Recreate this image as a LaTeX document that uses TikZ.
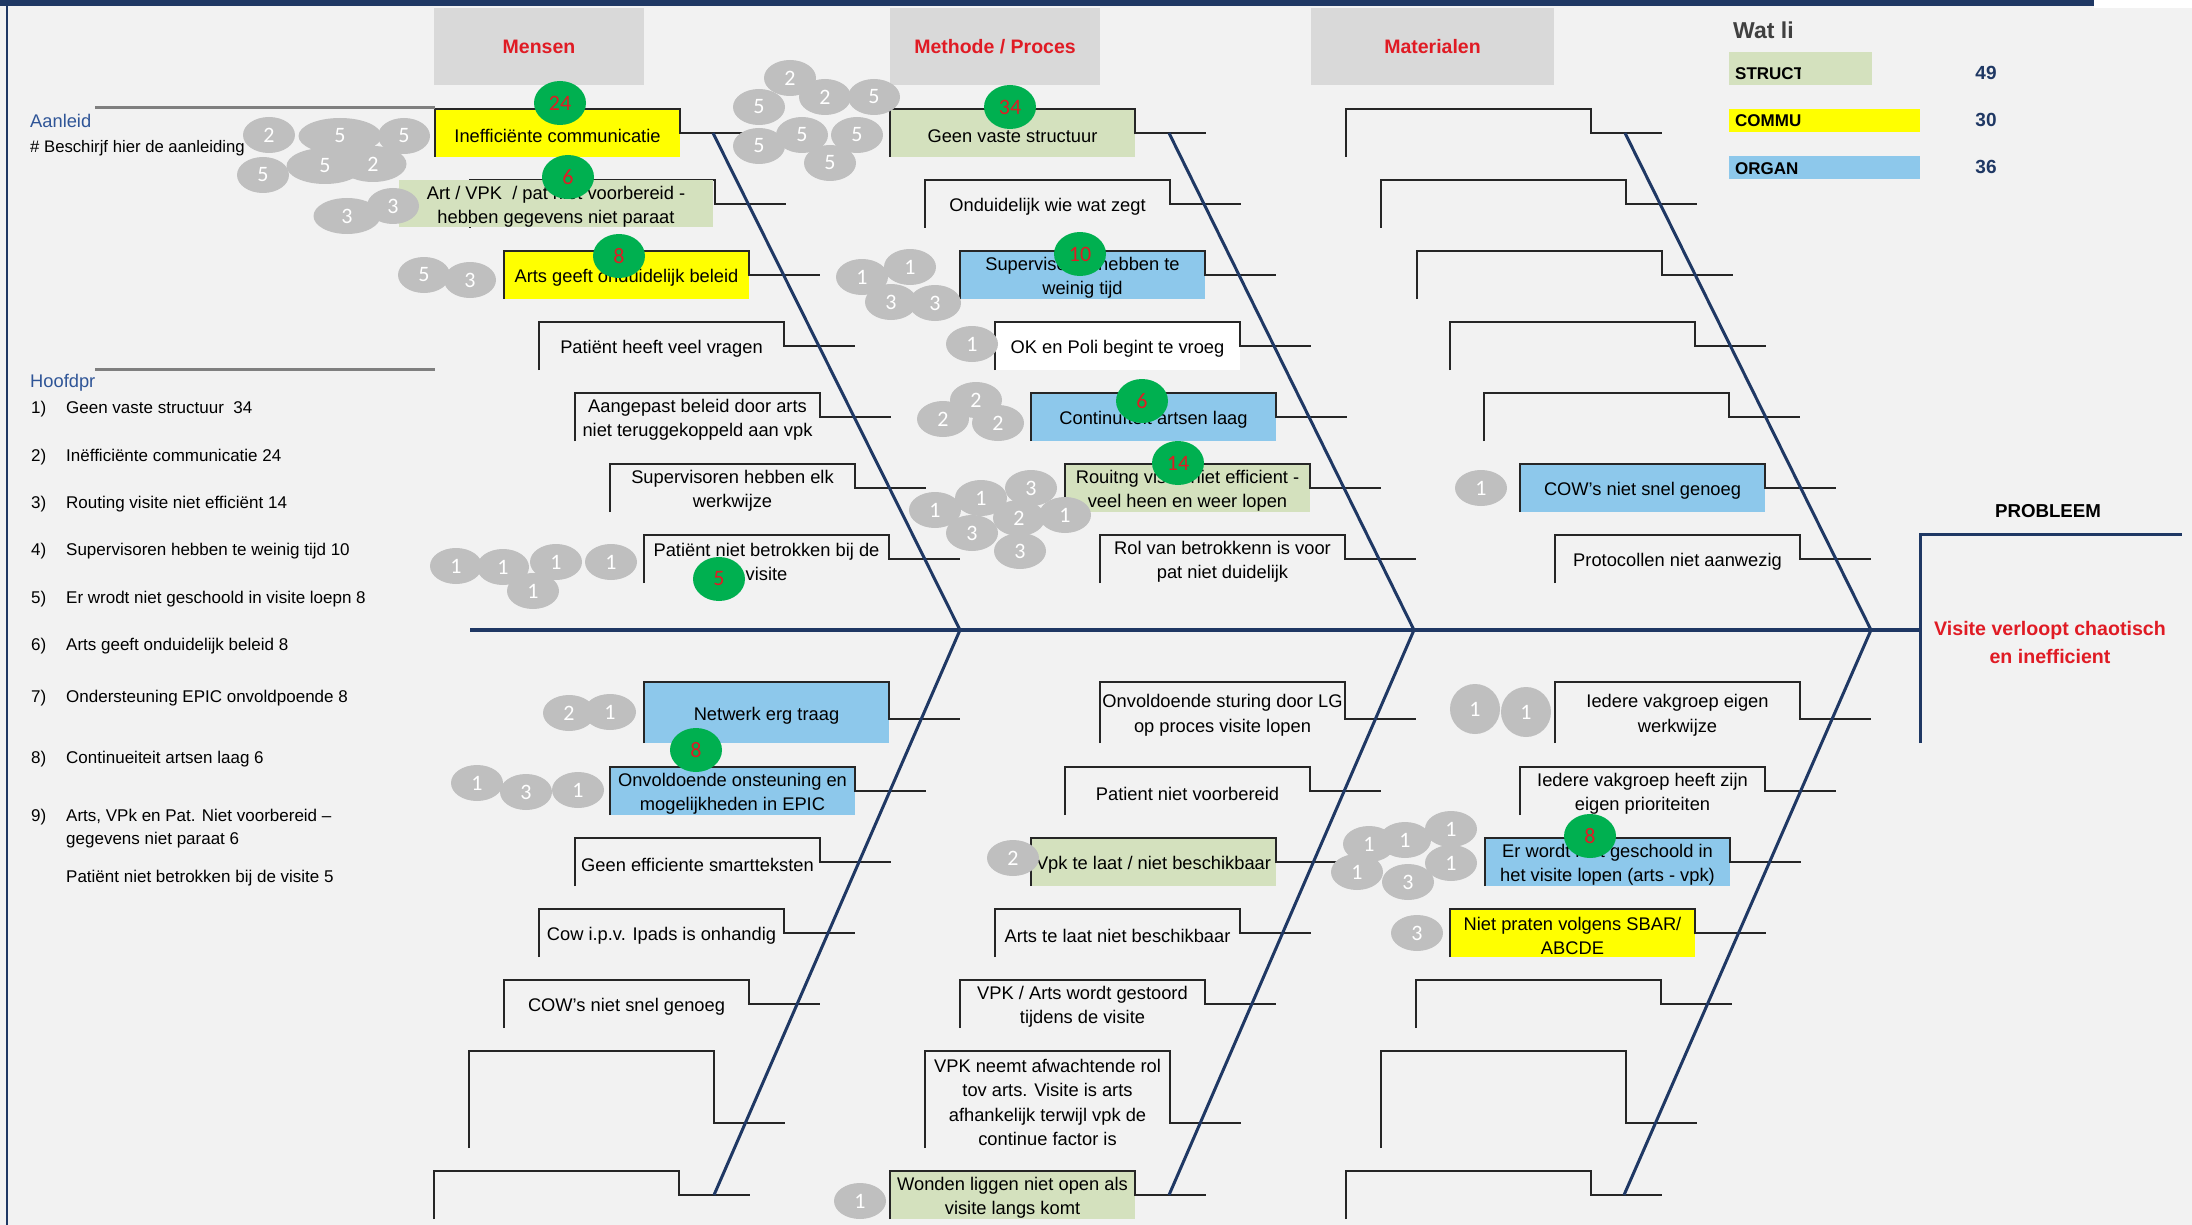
\documentclass[tikz,border=0pt]{standalone}
\usepackage{fontspec}
\setmainfont{Liberation Sans}
\newfontfamily\carlito{Carlito}
\usepackage{tikz}
\usetikzlibrary{shapes.geometric}

\definecolor{bgc}{HTML}{F2F2F2}
\definecolor{hdrc}{HTML}{D9D9D9}
\definecolor{navy}{HTML}{1F3864}
\definecolor{redt}{HTML}{E01B24}
\definecolor{strc}{HTML}{D4E1BE}
\definecolor{comm}{HTML}{FFFF00}
\definecolor{orgn}{HTML}{8DC8EB}
\definecolor{votec}{HTML}{BFBFBF}
\definecolor{cntc}{HTML}{00B050}
\definecolor{linkc}{HTML}{2F5597}
\definecolor{sepc}{HTML}{7F7F7F}
\definecolor{brkc}{HTML}{262626}
\definecolor{watc}{HTML}{404040}

\tikzstyle{bone} = [draw=navy, line width=3pt]
\tikzstyle{brk} = [draw=brkc, line width=2pt]

\newcommand{\boxfont}{\fontsize{18.3}{24.5}\selectfont}
\newcommand{\hdrfont}{\bfseries\fontsize{19.5}{22}\selectfont}
\newcommand{\listfont}{\fontsize{17}{20}\selectfont}
\newcommand{\votefont}{\carlito\fontsize{22}{22}\selectfont}
\newcommand{\legfont}{\bfseries\fontsize{17}{20}\selectfont}

% name, fill, left, top, bottom, mid, text
\newcommand{\cause}[7]{%
    \pgfmathsetmacro{\cauX}{#3+122.5}
    \pgfmathsetmacro{\cauY}{(#4+#5)/2}
    \pgfmathsetmacro{\cauYt}{(#4+#5)/2+3}
    \pgfmathsetmacro{\cauH}{#5-#4}
    \pgfmathsetmacro{\cauT}{#3+245+71}
    \node[cause, #2, minimum height=\cauH] (#1) at (\cauX,\cauY) {};
    \node[causetxt] (#1-x) at (\cauX,\cauYt) {#7};
    \coordinate (#1-t) at (\cauT,#6);
    \draw[brk] (#1.south west) -- (#1.north west) -- (#1.north east) |- (#1-t);
}

\begin{document}
\begin{tikzpicture}[x=1pt, y=-1pt,
    cause/.style={rectangle, minimum width=245, inner sep=0pt, outer sep=0pt},
    causetxt/.style={inner sep=0pt, align=center, font=\boxfont, text=black},
    vote/.style={ellipse, fill=votec, minimum width=52, minimum height=36, inner sep=0pt, text=white, font=\votefont},
    cnt/.style={ellipse, fill=cntc, minimum width=52, minimum height=44, inner sep=0pt, text=redt, font=\votefont},
    hdr/.style={rectangle, fill=hdrc, minimum height=77, inner sep=0pt, text=redt, font=\hdrfont},
    leg/.style={rectangle, inner sep=0pt},
    legtxt/.style={anchor=west, inner sep=0pt, font=\legfont},
    legnum/.style={text=navy, font=\bfseries\fontsize{19}{20}\selectfont},
    lnum/.style={anchor=base west, inner sep=0pt, font=\listfont},
    ltxt/.style={anchor=base west, inner sep=0pt, font=\listfont, align=left}]

    \useasboundingbox[fill=bgc] (0,0) rectangle (2192,1225);
    \fill[navy] (0,0) rectangle (2094,6);
    \fill[white] (2094,0) rectangle (2192,8);
    \draw[navy, line width=1.5pt] (7,6) -- (7,1225);

    \node[hdr, minimum width=210] (hMens) at (539,46.5) {Mensen};
    \node[hdr, minimum width=210] (hMeth) at (995,46.5) {Methode / Proces};
    \node[hdr, minimum width=243] (hMat) at (1432.5,46.5) {Materialen};

    \cause{mR1}{fill=comm}{435}{109}{157}{133}{Inefficiënte communicatie}
    \cause{mR2}{}{470}{180}{228}{204}{}
    \cause{mR3}{fill=comm}{504}{251}{299}{275}{Arts geeft onduidelijk beleid}
    \cause{mR4}{}{539}{322}{370}{346}{Patiënt heeft veel vragen}
    \cause{mR5}{}{575}{393}{441}{417}{Aangepast beleid door arts\\niet teruggekoppeld aan vpk}
    \cause{mR6}{}{610}{464}{512}{488}{Supervisoren hebben elk\\werkwijze}
    \cause{mR7}{}{644}{535}{583}{559}{Patiënt niet betrokken bij de\\visite}
    \cause{mL1}{fill=orgn}{644}{682}{743}{719}{Netwerk erg traag}
    \cause{mL2}{fill=orgn}{610}{767}{815}{791}{Onvoldoende onsteuning en\\mogelijkheden in EPIC}
    \cause{mL3}{}{575}{838}{886}{862}{Geen efficiente smartteksten}
    \cause{mL4}{}{539}{909}{957}{933}{Cow i.p.v. Ipads is onhandig}
    \cause{mL5}{}{504}{980}{1028}{1004}{COW's niet snel genoeg}
    \cause{mL6}{}{469}{1051}{1148}{1123}{}
    \cause{mL7}{}{434}{1171}{1219}{1195}{}

    \cause{pR1}{fill=strc}{890}{109}{157}{133}{Geen vaste structuur}
    \cause{pR2}{}{925}{180}{228}{204}{Onduidelijk wie wat zegt}
    \cause{pR3}{fill=orgn}{960}{251}{299}{275}{Supervisoren hebben te\\weinig tijd}
    \cause{pR4}{fill=white}{995}{322}{370}{346}{OK en Poli begint te vroeg}
    \cause{pR5}{fill=orgn}{1031}{393}{441}{417}{Continuïteit artsen laag}
    \cause{pR6}{fill=strc}{1065}{464}{512}{488}{Rouitng visite niet efficient -\\veel heen en weer lopen}
    \cause{pR7}{}{1100}{535}{583}{559}{Rol van betrokkenn is voor\\pat niet duidelijk}
    \cause{pL1}{}{1100}{682}{743}{719}{Onvoldoende sturing door LG\\op proces visite lopen}
    \cause{pL2}{}{1065}{767}{815}{791}{Patient niet voorbereid}
    \cause{pL3}{fill=strc}{1031}{838}{886}{862}{Vpk te laat / niet beschikbaar}
    \cause{pL4}{}{995}{909}{957}{933}{Arts te laat niet beschikbaar}
    \cause{pL5}{}{960}{980}{1028}{1004}{VPK / Arts wordt gestoord\\tijdens de visite}
    \cause{pL6}{}{925}{1051}{1148}{1123}{VPK neemt afwachtende rol\\tov arts. Visite is arts\\afhankelijk terwijl vpk de\\continue factor is}
    \cause{pL7}{fill=strc}{890}{1171}{1219}{1195}{Wonden liggen niet open als\\visite langs komt}

    \cause{tR1}{}{1346}{109}{157}{133}{}
    \cause{tR2}{}{1381}{180}{228}{204}{}
    \cause{tR3}{}{1417}{251}{299}{275}{}
    \cause{tR4}{}{1450}{322}{370}{346}{}
    \cause{tR5}{}{1484}{393}{441}{417}{}
    \cause{tR6}{fill=orgn}{1520}{464}{512}{488}{COW's niet snel genoeg}
    \cause{tR7}{}{1555}{535}{583}{559}{Protocollen niet aanwezig}
    \cause{tL1}{}{1555}{682}{743}{719}{Iedere vakgroep eigen\\werkwijze}
    \cause{tL2}{}{1520}{767}{815}{791}{Iedere vakgroep heeft zijn\\eigen prioriteiten}
    \cause{tL3}{fill=orgn}{1485}{838}{886}{862}{Er wordt niet geschoold in\\het visite lopen (arts - vpk)}
    \cause{tL4}{fill=comm}{1450}{909}{957}{933}{Niet praten volgens SBAR/\\ABCDE}
    \cause{tL5}{}{1416}{980}{1028}{1004}{}
    \cause{tL6}{}{1381}{1051}{1148}{1123}{}
    \cause{tL7}{}{1346}{1171}{1219}{1195}{}

    \node[cause, fill=strc, minimum width=314, minimum height=47] (mR2f) at (556,203.5) {};
    \node[causetxt] (mR2x) at (556,207) {Art / VPK \ / pat niet voorbereid -\\hebben gegevens niet paraat};

    \coordinate (mTop) at (713,133);
    \coordinate (mJoin) at (960,630);
    \coordinate (mEnd) at (714,1195);
    \coordinate (pTop) at (1169,133);
    \coordinate (pJoin) at (1414,630);
    \coordinate (pEnd) at (1169,1195);
    \coordinate (tTop) at (1625,133);
    \coordinate (tJoin) at (1871,630);
    \coordinate (tEnd) at (1624,1195);
    \coordinate (tailS) at (470,630);
    \coordinate (headS) at (1920,630);
    \coordinate (headT) at (1920,534);
    \coordinate (headB) at (1920,743);
    \coordinate (headR) at (2182,534);

    \draw[bone] (mTop) -- (mJoin) -- (mEnd);
    \draw[bone] (pTop) -- (pJoin) -- (pEnd);
    \draw[bone] (tTop) -- (tJoin) -- (tEnd);
    \draw[bone, line width=3.5pt] (tailS) -- (headS);
    \draw[bone] (headB) -- (headT) -- (headR);

    \node[font=\bfseries\fontsize{18.7}{20}\selectfont] (prob) at (2048,511) {PROBLEEM};
    \node[align=center, text=redt, font=\bfseries\fontsize{19.6}{28}\selectfont] (probT) at (2050,642) {Visite verloopt chaotisch\\en inefficient};

    \node[vote] (v1) at (269,135) {2};
    \node[vote, minimum width=83] (v2) at (340,136) {5};
    \node[vote] (v3) at (404,136) {5};
    \node[vote, minimum width=67] (v4) at (373,164) {2};
    \node[vote, minimum width=77] (v5) at (325,166) {5};
    \node[vote] (v6) at (263,175) {5};
    \node[vote, minimum width=67] (v7) at (347,216) {3};
    \node[vote] (v8) at (393,206) {3};
    \node[vote] (v9) at (424,275) {5};
    \node[vote] (v10) at (470,280) {3};

    \node[vote] (v11) at (790,78) {2};
    \node[vote] (v12) at (759,107) {5};
    \node[vote] (v13) at (825,97) {2};
    \node[vote] (v14) at (874,97) {5};
    \node[vote] (v15) at (759,146) {5};
    \node[vote] (v16) at (802,135) {5};
    \node[vote] (v17) at (857,135) {5};
    \node[vote] (v18) at (830,163) {5};

    \node[vote] (v19) at (862,277) {1};
    \node[vote] (v20) at (910,267) {1};
    \node[vote] (v21) at (891,302) {3};
    \node[vote] (v22) at (935,303) {3};
    \node[vote] (v23) at (972,344) {1};
    \node[vote] (v24) at (976,400) {2};
    \node[vote] (v25) at (943,419) {2};
    \node[vote] (v26) at (998,423) {2};

    \node[vote] (v27) at (1031,488) {3};
    \node[vote] (v28) at (981,498) {1};
    \node[vote] (v29) at (935,510) {1};
    \node[vote] (v30) at (972,533) {3};
    \node[vote] (v31) at (1019,518) {2};
    \node[vote] (v32) at (1065,515) {1};
    \node[vote] (v33) at (1020,551) {3};

    \node[vote] (v34) at (533,591) {1};
    \node[vote] (v35) at (456,566) {1};
    \node[vote] (v36) at (503,567) {1};
    \node[vote] (v37) at (556,562) {1};
    \node[vote] (v38) at (611,562) {1};

    \node[vote] (v39) at (569,713) {2};
    \node[vote] (v40) at (610,712) {1};
    \node[vote] (v41) at (477,783) {1};
    \node[vote] (v42) at (526,792) {3};
    \node[vote] (v43) at (578,790) {1};

    \node[vote] (v44) at (1481,488) {1};
    \node[vote, minimum height=50, minimum width=50] (v45) at (1475,709) {1};
    \node[vote, minimum height=50, minimum width=50] (v46) at (1526,712) {1};
    \node[vote] (v47) at (1013,858) {2};
    \node[vote] (v48) at (1451,829) {1};
    \node[vote] (v49) at (1369,844) {1};
    \node[vote] (v50) at (1405,840) {1};
    \node[vote] (v51) at (1451,863) {1};
    \node[vote] (v52) at (1357,872) {1};
    \node[vote] (v53) at (1408,882) {3};
    \node[vote] (v54) at (1417,933) {3};
    \node[vote] (v55) at (860,1201) {1};

    \node[cnt] (c1) at (560,103) {24};
    \node[cnt] (c2) at (568,177) {6};
    \node[cnt] (c3) at (619,256) {8};
    \node[cnt] (c4) at (1010,107) {34};
    \node[cnt] (c5) at (1080,254) {10};
    \node[cnt] (c6) at (1142,401) {6};
    \node[cnt] (c7) at (1178,463) {14};
    \node[cnt] (c8) at (719,579) {5};
    \node[cnt] (c9) at (696,750) {8};
    \node[cnt] (c10) at (1590,836) {8};

    \draw[sepc, line width=3pt] (95,108) -- (435,108);
    \draw[sepc, line width=3pt] (95,369) -- (435,369);
    \node[anchor=base west, inner sep=0pt, text=linkc, font=\boxfont] (aanl) at (30,128) {Aanleid};
    \node[anchor=base west, inner sep=0pt, font=\fontsize{16.7}{20}\selectfont] (aanlT) at (30,153) {\# Beschirjf hier de aanleiding};
    \node[anchor=base west, inner sep=0pt, text=linkc, font=\boxfont] (hoofd) at (30,387) {Hoofdpr};

    \node[lnum] (n1) at (31,413) {1)};
    \node[ltxt] (l1) at (66,413) {Geen vaste structuur \ 34};
    \node[lnum] (n2) at (31,461) {2)};
    \node[ltxt] (l2) at (66,461) {Inëfficiënte communicatie 24};
    \node[lnum] (n3) at (31,508) {3)};
    \node[ltxt] (l3) at (66,508) {Routing visite niet efficiënt 14};
    \node[lnum] (n4) at (31,555) {4)};
    \node[ltxt] (l4) at (66,555) {Supervisoren hebben te weinig tijd 10};
    \node[lnum] (n5) at (31,603) {5)};
    \node[ltxt] (l5) at (66,603) {Er wrodt niet geschoold in visite loepn 8};
    \node[lnum] (n6) at (31,650) {6)};
    \node[ltxt] (l6) at (66,650) {Arts geeft onduidelijk beleid 8};
    \node[lnum] (n7) at (31,702) {7)};
    \node[ltxt] (l7) at (66,702) {Ondersteuning EPIC onvoldpoende 8};
    \node[lnum] (n8) at (31,763) {8)};
    \node[ltxt] (l8) at (66,763) {Continueiteit artsen laag 6};
    \node[lnum] (n9) at (31,821) {9)};
    \node[ltxt] (l9) at (66,821) {Arts, VPk en Pat. Niet voorbereid --};
    \node[ltxt] (l9b) at (66,844) {gegevens niet paraat 6};
    \node[ltxt] (l10) at (66,882) {Patiënt niet betrokken bij de visite 5};

    \node[leg, fill=strc, minimum width=143, minimum height=33] (lgS) at (1800.5,68.5) {};
    \node[leg, fill=comm, minimum width=191, minimum height=23] (lgC) at (1824.5,120.5) {};
    \node[leg, fill=orgn, minimum width=191, minimum height=23] (lgO) at (1824.5,167.5) {};
    \begin{scope}
        \clip (1725,10) rectangle (1800,190);
        \node[anchor=west, inner sep=0pt, text=watc, font=\bfseries\fontsize{23}{24}\selectfont] (wat) at (1733,30) {Wat li};
        \node[legtxt] (lgSt) at (1735,74) {STRUCT};
        \node[legtxt] (lgCt) at (1735,121) {COMMU};
        \node[legtxt] (lgOt) at (1735,169) {ORGAN};
    \end{scope}
    \node[legnum] (lgSn) at (1986,73) {49};
    \node[legnum] (lgCn) at (1986,120) {30};
    \node[legnum] (lgOn) at (1986,167) {36};

\end{tikzpicture}
\end{document}
